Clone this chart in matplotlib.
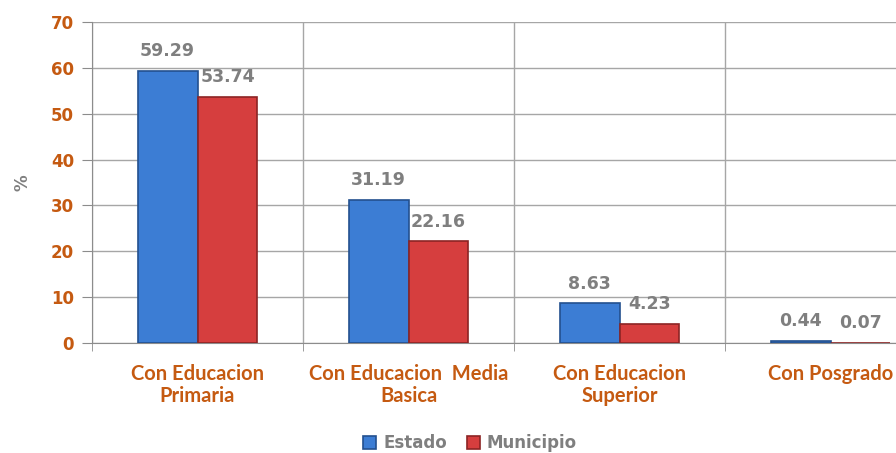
import matplotlib
matplotlib.use("Agg")
import matplotlib.pyplot as plt
import numpy as np

categories = ["Con Educacion\nPrimaria", "Con Educacion  Media\nBasica",
              "Con Educacion\nSuperior", "Con Posgrado"]
estado = [59.29, 31.19, 8.63, 0.44]
municipio = [53.74, 22.16, 4.23, 0.07]
labels_estado = ["59.29", "31.19", "8.63", "0.44"]
labels_municipio = ["53.74", "22.16", "4.23", "0.07"]

orange = "#C55A11"
gray = "#7F7F7F"

fig = plt.figure(figsize=(8.96, 4.53), dpi=100)
ax = fig.add_axes([92/896, 110/453, 844/896, 321/453])

x = np.arange(len(categories))
w = 0.284
b1 = ax.bar(x - w/2, estado, w, color="#3C7DD4", edgecolor="#23508F", linewidth=1.2, zorder=3)
b2 = ax.bar(x + w/2, municipio, w, color="#D63E3E", edgecolor="#8C2424", linewidth=1.2, zorder=3)

for i in range(len(x)):
    ax.text(x[i] - w/2, estado[i] + 4.3, labels_estado[i], ha="center", va="center",
            fontsize=12.5, fontweight="bold", color=gray, zorder=4)
    ax.text(x[i] + w/2, municipio[i] + 4.3, labels_municipio[i], ha="center", va="center",
            fontsize=12.5, fontweight="bold", color=gray, zorder=4)

ax.set_xlim(-0.5, 3.5)
ax.set_ylim(0, 70)
ax.set_yticks(range(0, 71, 10))
ax.set_xticks(x)
ax.set_xticklabels(categories, fontsize=14.5, fontweight="bold", color=orange, family="Lato",
                   linespacing=1.15)
ax.set_xticks(np.arange(-0.5, 3.6, 1), minor=True)
ax.tick_params(axis="x", which="major", length=0, pad=15)
ax.tick_params(axis="x", which="minor", length=6, color="#8C8C8C")
ax.tick_params(axis="y", length=7, color="#8C8C8C", labelsize=12, labelcolor=orange, pad=6)
for t in ax.get_yticklabels():
    t.set_fontweight("bold")
    t.set_family("DejaVu Sans")

ax.grid(axis="y", color="#A6A6A6", linewidth=1, zorder=0)
ax.grid(axis="x", which="minor", color="#A6A6A6", linewidth=1, zorder=0)
for s in ["top", "right"]:
    ax.spines[s].set_visible(False)
ax.spines["left"].set_color("#8C8C8C")
ax.spines["bottom"].set_color("#8C8C8C")

ax.set_ylabel("%", fontsize=12, fontweight="bold", color=gray, labelpad=14)

fig.legend([b1, b2], ["Estado", "Municipio"], loc="center", bbox_to_anchor=(470/896, 1 - 443/453),
           ncol=2, frameon=False, handlelength=0.8, handleheight=0.8,
           columnspacing=1.2, handletextpad=0.4, prop={"weight": "bold", "size": 12})
for t in fig.legends[0].get_texts():
    t.set_color(gray)

fig.savefig("out.png", dpi=100)
